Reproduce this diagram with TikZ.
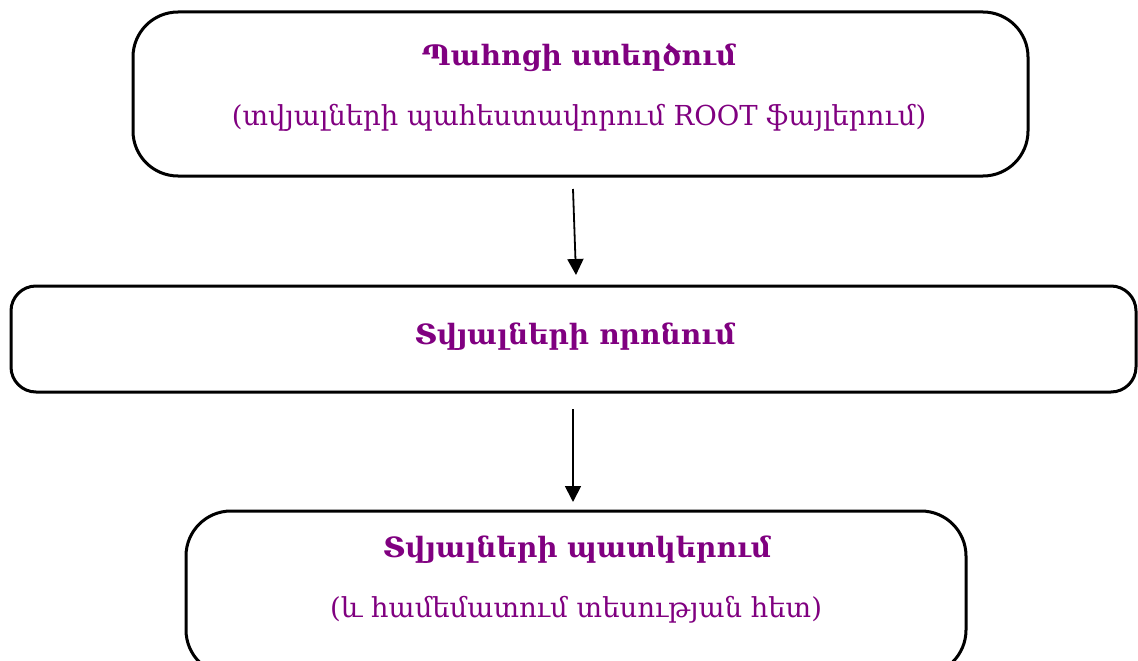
\documentclass[tikz,border=0pt]{standalone}
\usepackage{fontspec}
\setmainfont{DejaVu Serif}
\usetikzlibrary{arrows.meta}
\definecolor{txtpurple}{RGB}{128,0,128}
\tikzset{
  stage/.style={draw=black, line width=3pt, rounded corners=#1, inner sep=0pt},
  stage/.default=45pt,
  headline/.style={text=txtpurple, font=\fontsize{28}{32}\selectfont\bfseries, inner sep=0pt, anchor=center},
  subline/.style={text=txtpurple, font=\fontsize{27.5}{32}\selectfont, inner sep=0pt, anchor=center},
  flow/.style={line width=1.8pt, -{Triangle[length=16pt,width=16pt]}}
}
\begin{document}
\begin{tikzpicture}[x=1pt,y=-1pt]
\useasboundingbox (0,0) rectangle (1138,661);
% stages
\node[stage, minimum width=895pt, minimum height=164pt] (b1) at (580.5,94) {};
\node[stage=25pt, minimum width=1125pt, minimum height=106pt] (b2) at (573.5,339) {};
\node[stage, minimum width=780pt, minimum height=164pt] (b3) at (576,593) {};
% labels
\node[headline] (t1) at (579,58) {Պահոցի ստեղծում};
\node[subline] (s1) at (579,118) {(տվյալների պահեստավորում ROOT ֆայլերում)};
\node[headline] (t2) at (575,337) {Տվյալների որոնում};
\node[headline] (t3) at (577,550) {Տվյալների պատկերում};
\node[subline] (s3) at (576,610) {(և համեմատում տեսության հետ)};
% connectors
\coordinate (a1s) at (573,189);
\coordinate (a1e) at (576,275);
\coordinate (a2s) at (573,409);
\coordinate (a2e) at (573,502);
\draw[flow] (a1s) -- (a1e);
\draw[flow] (a2s) -- (a2e);
\end{tikzpicture}
\end{document}
